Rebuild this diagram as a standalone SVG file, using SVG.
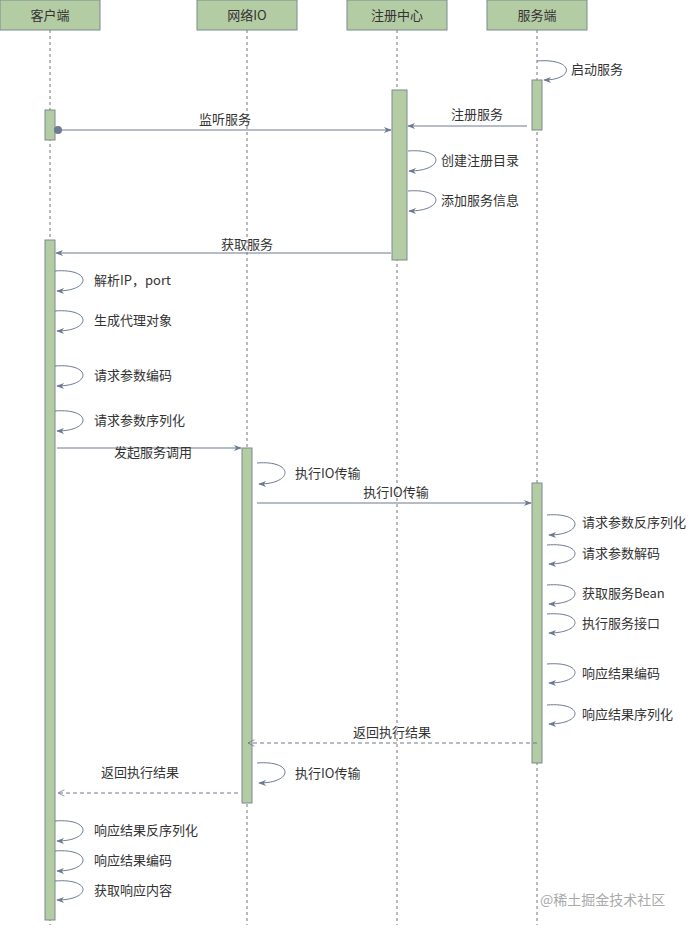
<svg xmlns="http://www.w3.org/2000/svg" width="694" height="931" viewBox="0 0 694 931">
<defs>
<marker id="a" viewBox="0 0 10 10" refX="9" refY="5" markerWidth="8" markerHeight="8" orient="auto"><path d="M0,1 L10,5 L0,9 L3,5 Z" fill="#6c7a92"/></marker>
<marker id="o" viewBox="0 0 10 10" refX="9" refY="5" markerWidth="8" markerHeight="8" orient="auto"><path d="M1,1 L9,5 L1,9" fill="none" stroke="#6c7a92"/></marker>
</defs>
<style>
text{font-family:"Noto Sans CJK SC","Liberation Sans",sans-serif;font-size:13px;fill:#333}
.h{fill:#b4cca3;stroke:#7a8a8f;stroke-width:1}
.life{stroke:#777;stroke-dasharray:3,3;fill:none}
.act{fill:#b4cca3;stroke:#7a8a8f}
.m{stroke:#6c7a92;fill:none;marker-end:url(#a)}
.d{stroke:#6c7a92;fill:none;stroke-dasharray:4,3;marker-end:url(#o)}
</style>
<g id="lifelines">
<line class="life" x1="50" y1="30" x2="50" y2="925"/>
<line class="life" x1="247" y1="30" x2="247" y2="925"/>
<line class="life" x1="397" y1="30" x2="397" y2="925"/>
<line class="life" x1="537" y1="30" x2="537" y2="925"/>
</g>
<g id="n-client"><rect class="h" x="0" y="0" width="100" height="30"/><text x="50" y="20" text-anchor="middle" font-size="14">客户端</text></g>
<g id="n-io"><rect class="h" x="197" y="0" width="100" height="30"/><text x="247" y="20" text-anchor="middle" font-size="14">网络IO</text></g>
<g id="n-reg"><rect class="h" x="347" y="0" width="100" height="30"/><text x="397" y="20" text-anchor="middle" font-size="14">注册中心</text></g>
<g id="n-srv"><rect class="h" x="487" y="0" width="100" height="30"/><text x="537" y="20" text-anchor="middle" font-size="14">服务端</text></g>
<g id="activations">
<rect class="act" x="532" y="80" width="10" height="50"/>
<rect class="act" x="45" y="110" width="10" height="30"/>
<rect class="act" x="392" y="90" width="15" height="170"/>
<rect class="act" x="45" y="240" width="10" height="680"/>
<rect class="act" x="242" y="448" width="10" height="355"/>
<rect class="act" x="532" y="483" width="10" height="280"/>
</g>
<g id="connectors">
<path class="m" d="M537,61 C575,58 575,80 544,80"/>
<circle cx="58" cy="130" r="4" fill="#6c7a92"/>
<line class="m" x1="58" y1="130" x2="391" y2="130"/>
<line class="m" x1="527" y1="126" x2="408" y2="126"/>
<path class="m" d="M408,151 C445,148 445,171 409,171"/>
<path class="m" d="M408,191 C445,188 445,211 409,211"/>
<line class="m" x1="391" y1="253" x2="56" y2="253"/>
<path class="m" d="M55,271 C92,268 92,291 57,291"/>
<path class="m" d="M55,311 C92,308 92,331 57,331"/>
<path class="m" d="M55,366 C92,363 92,386 57,386"/>
<path class="m" d="M55,411 C92,408 92,431 57,431"/>
<line class="m" x1="57" y1="448" x2="241" y2="448"/>
<path class="m" d="M257,463 C294,460 294,484 259,484"/>
<line class="m" x1="257" y1="503" x2="531" y2="503"/>
<path class="m" d="M547,515 C584,512 584,535 549,535"/>
<path class="m" d="M547,545 C584,542 584,564 549,564"/>
<path class="m" d="M547,585 C584,582 584,604 549,604"/>
<path class="m" d="M547,614 C584,611 584,633 549,633"/>
<path class="m" d="M547,664 C584,661 584,683 549,683"/>
<path class="m" d="M547,705 C584,702 584,724 549,724"/>
<line class="d" x1="537" y1="743" x2="248" y2="743"/>
<path class="m" d="M257,763 C294,760 294,783 259,783"/>
<line class="d" x1="238" y1="793" x2="58" y2="793"/>
<path class="m" d="M55,821 C92,818 92,841 57,841"/>
<path class="m" d="M55,851 C92,848 92,871 57,871"/>
<path class="m" d="M55,881 C92,878 92,900 57,900"/>
</g>
<g id="labels">
<text x="571" y="74">启动服务</text>
<text x="225" y="124" text-anchor="middle">监听服务</text>
<text x="477" y="119" text-anchor="middle">注册服务</text>
<text x="441" y="165">创建注册目录</text>
<text x="441" y="205">添加服务信息</text>
<text x="247" y="249" text-anchor="middle">获取服务</text>
<text x="94" y="285">解析IP，port</text>
<text x="94" y="325">生成代理对象</text>
<text x="94" y="380">请求参数编码</text>
<text x="94" y="425">请求参数序列化</text>
<text x="153" y="457" text-anchor="middle">发起服务调用</text>
<text x="295" y="478">执行IO传输</text>
<text x="396" y="497" text-anchor="middle">执行IO传输</text>
<text x="582" y="527">请求参数反序列化</text>
<text x="582" y="558">请求参数解码</text>
<text x="582" y="598">获取服务Bean</text>
<text x="582" y="628">执行服务接口</text>
<text x="582" y="678">响应结果编码</text>
<text x="582" y="719">响应结果序列化</text>
<text x="392" y="737" text-anchor="middle">返回执行结果</text>
<text x="295" y="778">执行IO传输</text>
<text x="140" y="777" text-anchor="middle">返回执行结果</text>
<text x="94" y="835">响应结果反序列化</text>
<text x="94" y="865">响应结果编码</text>
<text x="94" y="895">获取响应内容</text>
<text x="540" y="905" style="fill:#aaa;font-size:14px">@稀土掘金技术社区</text>
</g>
</svg>
